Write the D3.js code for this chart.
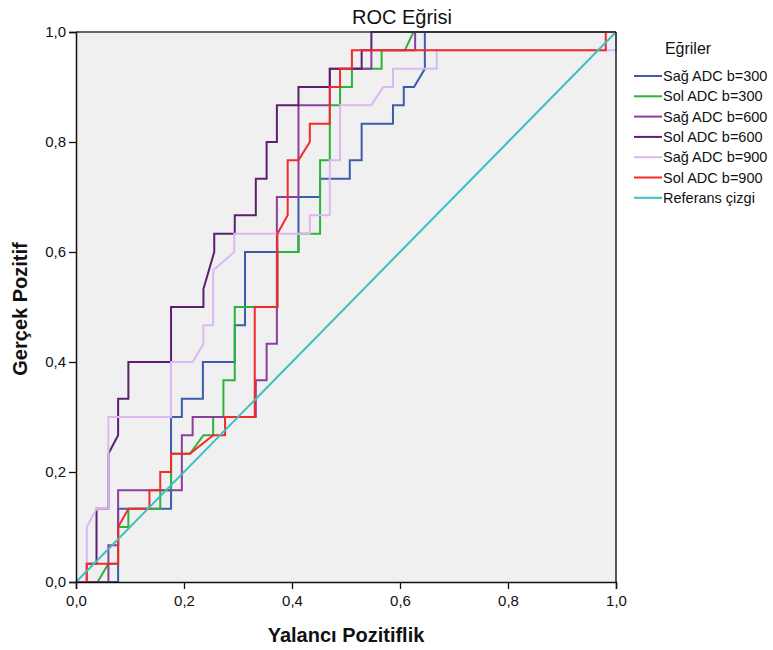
<!DOCTYPE html>
<html>
<head>
<meta charset="utf-8">
<script src="https://cdn.jsdelivr.net/npm/d3@7"></script>
<style>
  html, body { margin: 0; padding: 0; background: #ffffff; }
  svg { display: block; font-family: Arial, "Liberation Sans", sans-serif; }
</style>
</head>
<body>
<svg id="chart" width="773" height="650"></svg>
<script>
// ROC curves: each point is [1 - specificity, sensitivity]
const sagADC300 = [[0,0],[0.078,0],[0.078,0.133],[0.176,0.133],[0.176,0.3],[0.196,0.3],[0.196,0.333],
  [0.235,0.333],[0.235,0.4],[0.294,0.4],[0.294,0.467],[0.313,0.467],[0.313,0.6],[0.412,0.6],[0.412,0.7],
  [0.452,0.7],[0.452,0.733],[0.507,0.733],[0.507,0.767],[0.529,0.767],[0.529,0.833],[0.587,0.833],
  [0.587,0.867],[0.607,0.867],[0.607,0.9],[0.626,0.9],[0.646,0.933],[0.646,1],[1,1]];

const solADC300 = [[0,0],[0.04,0],[0.06,0.033],[0.078,0.033],[0.078,0.1],[0.097,0.1],[0.097,0.133],
  [0.156,0.133],[0.156,0.167],[0.176,0.167],[0.176,0.233],[0.211,0.233],[0.236,0.267],[0.254,0.267],
  [0.254,0.3],[0.273,0.3],[0.273,0.367],[0.294,0.367],[0.294,0.5],[0.373,0.5],[0.373,0.6],[0.412,0.6],
  [0.412,0.633],[0.452,0.633],[0.452,0.767],[0.470,0.767],[0.470,0.867],[0.489,0.867],[0.489,0.9],
  [0.511,0.9],[0.511,0.933],[0.566,0.933],[0.566,0.967],[0.609,0.967],[0.625,1],[1,1]];

const sagADC600 = [[0,0],[0.06,0],[0.06,0.067],[0.078,0.067],[0.078,0.167],[0.136,0.167],[0.196,0.167],
  [0.196,0.267],[0.216,0.267],[0.216,0.3],[0.333,0.3],[0.333,0.367],[0.353,0.367],[0.353,0.433],
  [0.372,0.433],[0.372,0.7],[0.412,0.7],[0.412,0.867],[0.470,0.867],[0.470,0.933],[0.547,0.933],
  [0.547,0.967],[0.628,0.967],[0.628,1],[1,1]];

const solADC600 = [[0,0],[0.02,0],[0.02,0.033],[0.038,0.033],[0.038,0.133],[0.06,0.133],[0.06,0.233],
  [0.078,0.267],[0.078,0.333],[0.097,0.333],[0.097,0.4],[0.176,0.4],[0.176,0.5],[0.236,0.5],
  [0.236,0.533],[0.256,0.6],[0.256,0.633],[0.294,0.633],[0.294,0.667],[0.333,0.667],[0.333,0.733],
  [0.353,0.733],[0.353,0.8],[0.372,0.8],[0.372,0.867],[0.412,0.867],[0.412,0.9],[0.470,0.9],
  [0.470,0.933],[0.529,0.933],[0.529,0.967],[0.547,0.967],[0.547,1],[1,1]];

const sagADC900 = [[0,0],[0.02,0],[0.02,0.1],[0.038,0.133],[0.06,0.133],[0.06,0.3],[0.176,0.3],
  [0.176,0.4],[0.216,0.4],[0.236,0.433],[0.236,0.467],[0.254,0.467],[0.254,0.567],[0.293,0.6],
  [0.293,0.633],[0.433,0.633],[0.433,0.667],[0.470,0.667],[0.470,0.767],[0.489,0.767],[0.489,0.867],
  [0.547,0.867],[0.569,0.9],[0.587,0.9],[0.587,0.933],[0.668,0.933],[0.668,0.967],[1,0.967],[1,1]];

const solADC900 = [[0,0],[0.02,0],[0.02,0.033],[0.078,0.033],[0.078,0.1],[0.097,0.133],[0.136,0.133],
  [0.136,0.167],[0.156,0.167],[0.156,0.2],[0.176,0.2],[0.176,0.233],[0.211,0.233],[0.254,0.267],
  [0.276,0.267],[0.276,0.3],[0.331,0.3],[0.331,0.5],[0.373,0.5],[0.373,0.633],[0.392,0.667],
  [0.392,0.767],[0.412,0.767],[0.433,0.8],[0.433,0.833],[0.470,0.833],[0.470,0.9],[0.489,0.9],
  [0.489,0.933],[0.511,0.933],[0.511,0.967],[0.981,0.967],[0.981,1],[1,1]];

const referenceLine = [[0,0],[1,1]];

const seriesNames = ["Sağ ADC b=300","Sol ADC b=300","Sağ ADC b=600","Sol ADC b=600",
  "Sağ ADC b=900","Sol ADC b=900","Referans çizgi"];
const seriesColors = ["#3d5cab","#2ab43a","#8a3f9e","#5e1f6e","#dcb8f2","#f22a2a","#3cc0c0"];
const seriesData = [sagADC300, solADC300, sagADC600, solADC600, sagADC900, solADC900, referenceLine];

const tickValues = [0, 0.2, 0.4, 0.6, 0.8, 1.0];
const tickLabels = ["0,0","0,2","0,4","0,6","0,8","1,0"];

const svg = d3.select("#chart");
const plot = { left: 76, right: 616, top: 32, bottom: 582 };

const x = d3.scaleLinear().domain([0, 1]).range([plot.left, plot.right]);
const y = d3.scaleLinear().domain([0, 1]).range([plot.bottom, plot.top]);

// plot background
svg.append("rect")
  .attr("x", plot.left).attr("y", plot.top)
  .attr("width", plot.right - plot.left).attr("height", plot.bottom - plot.top)
  .attr("fill", "#f0f0f0");

// curves
const line = d3.line().x(d => x(d[0])).y(d => y(d[1]));
svg.append("g").selectAll("path")
  .data(seriesData)
  .join("path")
  .attr("d", d => line(d))
  .attr("fill", "none")
  .attr("stroke", (d, i) => seriesColors[i])
  .attr("stroke-width", 2)
  .attr("stroke-linejoin", "miter");

// frame: top and right edges
svg.append("line").attr("x1", plot.left).attr("x2", plot.right)
  .attr("y1", plot.top).attr("y2", plot.top).attr("stroke", "#333").attr("stroke-width", 1.5);
svg.append("line").attr("x1", plot.right).attr("x2", plot.right)
  .attr("y1", plot.top).attr("y2", plot.bottom).attr("stroke", "#222").attr("stroke-width", 1.5);

// axes
const fmt = v => tickLabels[tickValues.findIndex(t => Math.abs(t - v) < 1e-9)];
const xAxis = svg.append("g")
  .attr("transform", `translate(0,${plot.bottom})`)
  .call(d3.axisBottom(x).tickValues(tickValues).tickFormat(fmt).tickSize(7).tickPadding(6));
const yAxis = svg.append("g")
  .attr("transform", `translate(${plot.left},0)`)
  .call(d3.axisLeft(y).tickValues(tickValues).tickFormat(fmt).tickSize(7).tickPadding(3));
[xAxis, yAxis].forEach(g => {
  g.select(".domain").attr("stroke", "#111").attr("stroke-width", 1.5);
  g.selectAll(".tick line").attr("stroke", "#111").attr("stroke-width", 1.3);
  g.selectAll(".tick text").attr("fill", "#111")
    .style("font-family", "Arial, 'Liberation Sans', sans-serif").style("font-size", "15px");
});

// title
svg.append("text")
  .attr("x", 402).attr("y", 24)
  .attr("text-anchor", "middle")
  .style("font-size", "20px")
  .attr("fill", "#111")
  .text("ROC Eğrisi");

// axis titles
svg.append("text")
  .attr("x", 346).attr("y", 642)
  .attr("text-anchor", "middle")
  .style("font-size", "20px").style("font-weight", "bold")
  .attr("fill", "#111")
  .text("Yalancı Pozitiflik");
svg.append("text")
  .attr("transform", "translate(27,309) rotate(-90)")
  .attr("text-anchor", "middle")
  .style("font-size", "20px").style("font-weight", "bold")
  .attr("fill", "#111")
  .text("Gerçek Pozitif");

// legend
const legend = svg.append("g");
legend.append("text")
  .attr("x", 688).attr("y", 54)
  .attr("text-anchor", "middle")
  .style("font-size", "16px")
  .attr("fill", "#111")
  .text("Eğriler");
const rows = legend.selectAll("g.item")
  .data(seriesNames)
  .join("g")
  .attr("class", "item")
  .attr("transform", (d, i) => `translate(0,${76 + i * 20.3})`);
rows.append("line")
  .attr("x1", 634).attr("x2", 662)
  .attr("y1", 0).attr("y2", 0)
  .attr("stroke", (d, i) => seriesColors[i])
  .attr("stroke-width", 2);
rows.append("text")
  .attr("x", 663).attr("y", 5)
  .style("font-size", "14.5px")
  .attr("fill", "#111")
  .text(d => d);
</script>
</body>
</html>
